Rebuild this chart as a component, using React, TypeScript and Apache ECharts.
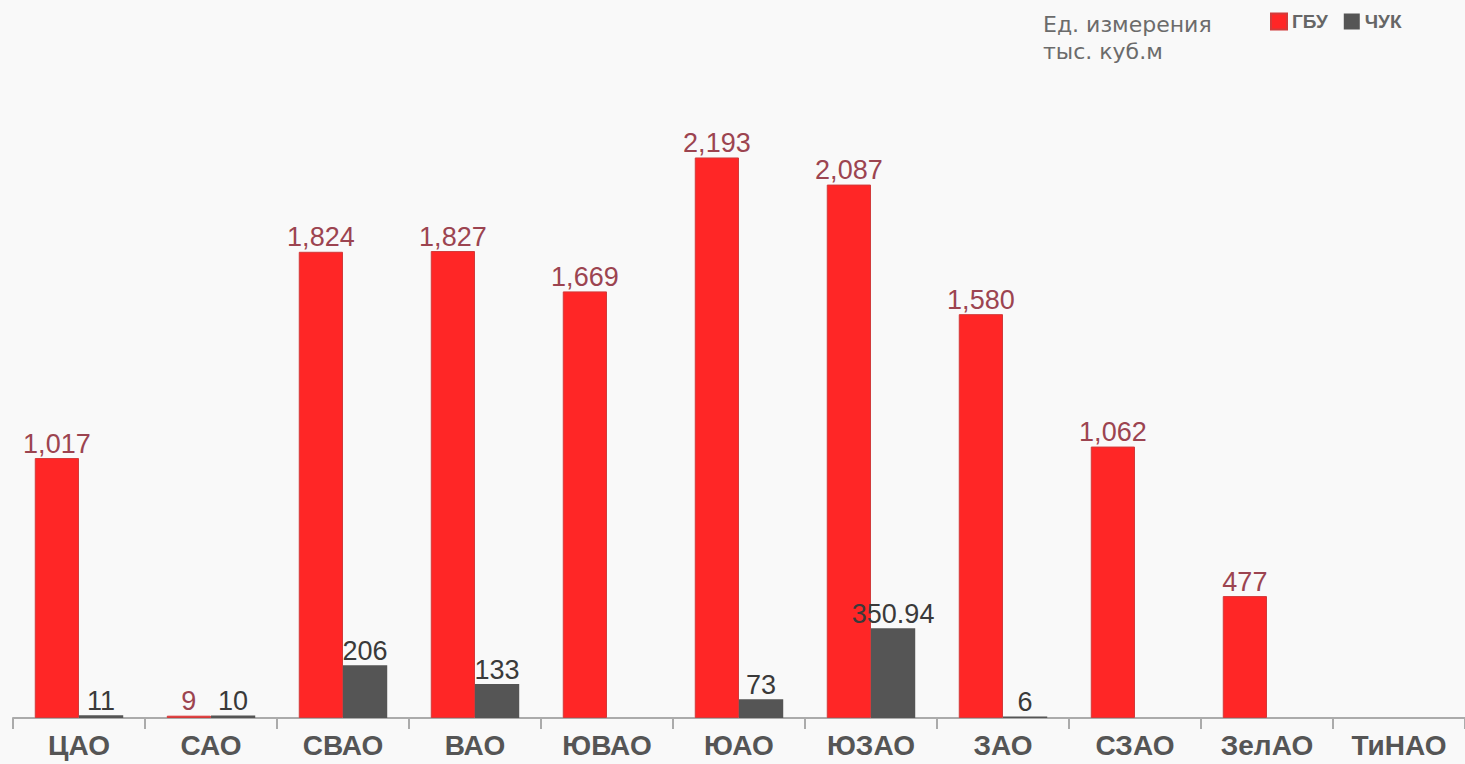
import React, { useEffect, useRef } from "react";
import * as echarts from "echarts";

const categories = ["ЦАО", "САО", "СВАО", "ВАО", "ЮВАО", "ЮАО", "ЮЗАО", "ЗАО", "СЗАО", "ЗелАО", "ТиНАО"];
const gbuValues: (number | null)[] = [1017, 9, 1824, 1827, 1669, 2193, 2087, 1580, 1062, 477, null];
const chukValues: (number | null)[] = [11, 10, 206, 133, null, 73, 350.94, 6, null, null, null];
const seriesNames = ["ГБУ", "ЧУК"];
const unitLines = ["Ед. измерения", "тыс. куб.м"];

const fmt = (v: number) => v.toLocaleString("en-US", { maximumFractionDigits: 2 });

export default function App() {
  const ref = useRef<HTMLDivElement>(null);
  useEffect(() => {
    document.body.style.margin = "0";
    document.body.style.background = "#f9f9f9";
    const chart = echarts.init(ref.current!, null, { renderer: "svg" });
    chart.setOption({
      animation: false,
      backgroundColor: "#f9f9f9",
      textStyle: { fontFamily: "Liberation Sans, Arial, sans-serif" },
      grid: { left: 13, top: 79, bottom: 46, width: 1460 },
      legend: {
        data: seriesNames,
        left: 1265,
        top: 7,
        itemWidth: 16,
        itemHeight: 16,
        itemGap: 16,
        icon: "rect",
        textStyle: { fontWeight: "bold", fontSize: 19, color: "#666" },
      },
      graphic: [
        {
          type: "text",
          left: 1043,
          top: 11,
          style: {
            text: unitLines.join("\n"),
            font: "22px 'DejaVu Sans', sans-serif",
            fill: "#6b6b6b",
            lineHeight: 27,
          },
        },
      ],
      xAxis: {
        type: "category",
        data: categories,
        axisLine: { lineStyle: { color: "#ababab", width: 2 } },
        axisTick: { show: true, length: 11, lineStyle: { color: "#ababab", width: 2 } },
        axisLabel: { fontSize: 28, fontWeight: "bold", color: "#555", margin: 13 },
      },
      yAxis: {
        type: "value",
        min: 0,
        max: 2500,
        show: false,
        splitLine: { show: false },
      },
      series: [
        {
          name: seriesNames[0],
          type: "bar",
          data: gbuValues,
          barGap: 0,
          barCategoryGap: "33%",
          itemStyle: { color: "#ff2626", borderColor: "#d23a3a", borderWidth: 1 },
          label: {
            show: true,
            position: "top",
            distance: 1,
            fontSize: 27,
            color: "#9c4450",
            formatter: (p: any) => fmt(p.value),
          },
        },
        {
          name: seriesNames[1],
          type: "bar",
          data: chukValues,
          itemStyle: { color: "#555555" },
          label: {
            show: true,
            position: "top",
            distance: 1,
            fontSize: 27,
            color: "#3a3a3a",
            formatter: (p: any) => fmt(p.value),
          },
        },
      ],
    });
    return () => chart.dispose();
  }, []);
  return <div ref={ref} style={{ width: 1465, height: 764 }} />;
}
